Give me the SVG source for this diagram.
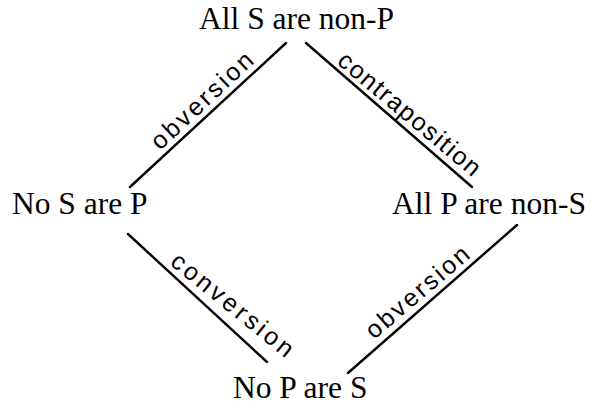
<svg xmlns="http://www.w3.org/2000/svg" width="602" height="408" viewBox="0 0 602 408">
<style>
.n{font-family:"Liberation Serif","Times New Roman",serif;font-size:31.5px;fill:#000}
.c{stroke:#000;stroke-width:2.4;stroke-linecap:round;fill:none}
.l{font-family:"Liberation Sans","DejaVu Sans",sans-serif;font-size:25px;fill:#000}
</style>
<rect width="602" height="408" fill="#fff"/>
<g id="connectors">
<line class="c" x1="130" y1="187" x2="286" y2="43"/>
<line class="c" x1="306" y1="43" x2="472" y2="187"/>
<line class="c" x1="128" y1="234" x2="267" y2="362"/>
<line class="c" x1="517" y1="225" x2="348" y2="373"/>
<text class="l" transform="translate(160,151) rotate(-43)" textLength="130" lengthAdjust="spacing">obversion</text>
<text class="l" transform="translate(336,63) rotate(40)" textLength="178" lengthAdjust="spacing">contraposition</text>
<text class="l" transform="translate(169,264) rotate(39)" textLength="150" lengthAdjust="spacing">conversion</text>
<text class="l" transform="translate(374,340) rotate(-40.5)" textLength="128" lengthAdjust="spacing">obversion</text>
</g>
<g id="top"><text class="n" x="199" y="29">All S are non-P</text></g>
<g id="left"><text class="n" x="12" y="214">No S are P</text></g>
<g id="right"><text class="n" x="392" y="214">All P are non-S</text></g>
<g id="bottom"><text class="n" x="233" y="398">No P are S</text></g>
</svg>
